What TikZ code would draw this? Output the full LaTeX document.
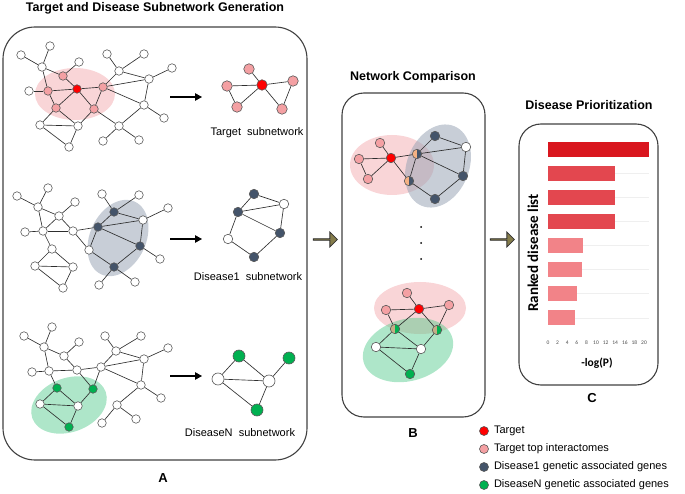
\documentclass[tikz,border=0pt]{standalone}
\usepackage{fontspec}
\setmainfont{Liberation Sans}
\newfontfamily\calfont{Carlito}
\usepackage{tikz}
\usetikzlibrary{positioning,shapes.geometric,shapes.arrows,arrows.meta}
\definecolor{tgtred}{HTML}{FF0000}
\definecolor{tgtpink}{HTML}{F4A0A3}
\definecolor{dsnavy}{HTML}{44546A}
\definecolor{dsgreen}{HTML}{00B050}
\definecolor{halforange}{HTML}{F4B183}
\definecolor{halftan}{HTML}{C4AE86}
\definecolor{nodeline}{HTML}{595959}
\definecolor{edgeline}{HTML}{2E2E2E}
\definecolor{panelline}{HTML}{404040}
\definecolor{pinkzone}{HTML}{F7C3C6}
\definecolor{grayzone}{HTML}{9AA5B6}
\definecolor{greenzone}{HTML}{4CC887}
\definecolor{arrowfill}{HTML}{857D4B}
\definecolor{bartop}{HTML}{D9161E}
\definecolor{barmid}{HTML}{E3474F}
\definecolor{barlow}{HTML}{F28388}
\definecolor{gridgray}{HTML}{EFEFEF}
\tikzset{
  % --- panels and titles ---
  panel/.style={draw=panelline, line width=1.1pt, inner sep=0pt},
  paneltitle/.style={font=\bfseries\fontsize{12.5}{14}\selectfont, inner sep=0pt},
  panelletter/.style={font=\bfseries\fontsize{13}{15}\selectfont, inner sep=0pt},
  sublabel/.style={font=\fontsize{11}{13}\selectfont, inner sep=0pt},
  % --- network nodes ---
  wnode/.style={circle, draw=nodeline, fill=white, line width=0.6pt,
                minimum size=8.5pt, inner sep=0pt},
  pnode/.style={wnode, fill=tgtpink},
  rnode/.style={wnode, fill=tgtred},
  dnode/.style={wnode, fill=dsnavy},
  gnode/.style={wnode, fill=dsgreen},
  halfnode/.style 2 args={wnode, minimum size=9.5pt, fill=#1,
                path picture={\fill[#2] (path picture bounding box.north)
                rectangle (path picture bounding box.south east);}},
  link/.style={draw=edgeline, line width=0.65pt},
  % --- highlighted regions ---
  zone/.style={ellipse, draw=none, inner sep=0pt},
  pinkz/.style={zone, fill=pinkzone, fill opacity=0.7},
  grayz/.style={zone, fill=grayzone, fill opacity=0.55},
  greenz/.style={zone, fill=greenzone, fill opacity=0.45},
  % --- arrows ---
  maparrow/.style={-{Triangle[length=7pt,width=7.5pt]}, line width=1.2pt},
  blockarrow/.style={single arrow, draw=black!80, fill=arrowfill, line width=0.8pt,
                     minimum height=24pt, minimum width=15pt,
                     single arrow head extend=3.5pt, inner sep=0pt},
  % --- bar chart ---
  bar/.style={anchor=west, minimum height=15pt, inner sep=0pt, draw=none},
  gridline/.style={draw=gridgray, line width=0.5pt},
  ticklabel/.style={font=\calfont\fontsize{5.5}{6}\selectfont, inner sep=0pt, text=black!70},
  axislabel/.style={font=\calfont\bfseries\fontsize{11.5}{13}\selectfont, inner sep=0pt},
  keytext/.style={font=\fontsize{11}{13}\selectfont, inner sep=0pt},
  dot/.style={circle, fill=black, minimum size=2pt, inner sep=0pt},
}
\begin{document}
\begin{tikzpicture}[x=1pt,y=-1pt]
  \useasboundingbox (0,0) rectangle (685,494);
  % panel frames
  \node[panel, rounded corners=32pt, minimum width=304pt, minimum height=433pt] (boxA) at (155,243.5) {};
  \node[panel, rounded corners=22pt, minimum width=143pt, minimum height=324pt] (boxB) at (413.5,255) {};
  \node[panel, rounded corners=22pt, minimum width=139pt, minimum height=261pt] (boxC) at (588.5,254.5) {};
  \node[paneltitle] (titleA) at (155,8) {Target and Disease Subnetwork Generation};
  \node[paneltitle] (titleB) at (413,77) {Network Comparison};
  \node[paneltitle] (titleC) at (589,105) {Disease Prioritization};
  \node[panelletter] (letA) at (163,478) {A};
  \node[panelletter] (letB) at (413,433) {B};
  \node[panelletter] (letC) at (592,398) {C};
  \node[blockarrow] (stepAB) at (325,239.5) {};
  \node[blockarrow] (stepBC) at (502,239.5) {};

  % --- A: target network ---
  \node[pinkz, minimum width=80pt, minimum height=52pt] (zoneA1) at (75,94) {};
  \foreach \n/\x/\y/\s in {a1/21/55/wnode, a2/50/46/wnode, a3/42/67/wnode, a4/79/62/wnode,
      a5/63/76/pnode, a6/29/91/wnode, a7/48/91/pnode, a8/77/89/rnode, a9/103/87/pnode,
      a10/56/108/pnode, a11/94/109/pnode, a12/40/125/wnode, a13/78/126/wnode,
      a14/69/147/wnode, a15/107/54/wnode, a16/144/54/wnode, a17/119/71/wnode,
      a18/172/68/wnode, a19/149/79/wnode, a20/144/105/wnode, a21/164/118/wnode,
      a22/119/126/wnode, a23/103/141/wnode, a24/139/140/wnode}
    \node[\s] (\n) at (\x,\y) {};
  \foreach \a/\b in {a1/a3, a2/a3, a3/a5, a3/a7, a4/a5, a5/a8, a6/a7, a7/a8, a8/a9,
      a7/a10, a8/a10, a8/a11, a9/a11, a10/a12, a10/a13, a12/a13, a12/a14, a13/a14,
      a11/a13, a11/a22, a9/a17, a9/a19, a9/a20, a15/a17, a16/a17, a17/a19, a18/a19,
      a19/a20, a20/a21, a20/a22, a22/a23, a22/a24}
    \draw[link] (\a) -- (\b);
  \foreach \n/\x/\y/\s in {t1/249/69/pnode, t2/227/86/pnode, t3/262/85/rnode,
      t4/293/81/pnode, t5/237/107/pnode, t6/282/109/pnode}
    \node[\s, minimum size=10.5pt] (\n) at (\x,\y) {};
  \foreach \a/\b in {t1/t3, t2/t3, t2/t5, t3/t5, t3/t4, t3/t6, t4/t6}
    \draw[link] (\a) -- (\b);
  \coordinate (mapT0) at (170,97);
  \coordinate (mapT1) at (202,97);
  \draw[maparrow] (mapT0) -- (mapT1);
  \node[sublabel] (labT) at (257,133) {Target\ \ subnetwork};

  % --- A: disease 1 network ---
  \node[grayz, minimum width=56pt, minimum height=80pt, rotate=-25] (zoneA2) at (118,238) {};
  \foreach \n/\x/\y/\s in {b1/17/196/wnode, b2/48/188/wnode, b3/38/207/wnode,
      b4/75/202/wnode, b5/59/216/wnode, b6/25/232/wnode, b7/43/231/wnode,
      b8/73/231/wnode, b9/52/249/wnode, b10/35/266/wnode, b11/73/267/wnode,
      b12/63/288/wnode, b13/89/250/wnode, b14/102/194/wnode, b15/139/195/wnode,
      b16/114/212/dnode, b17/143/220/wnode, b18/168/208/wnode, b19/98/227/dnode,
      b20/140/246/dnode, b21/160/259/wnode, b22/114/267/dnode, b23/99/285/wnode,
      b24/135/282/wnode}
    \node[\s] (\n) at (\x,\y) {};
  \foreach \a/\b in {b1/b3, b2/b3, b3/b5, b3/b7, b4/b5, b5/b7, b5/b8, b6/b7, b7/b8,
      b8/b19, b7/b9, b8/b13, b9/b10, b9/b11, b10/b11, b10/b12, b11/b12, b13/b22,
      b13/b19, b19/b16, b19/b17, b19/b20, b16/b14, b16/b15, b16/b17, b17/b18,
      b17/b20, b20/b21, b20/b22, b22/b23, b22/b24}
    \draw[link] (\a) -- (\b);
  \foreach \n/\x/\y/\s in {s1/254/194/dnode, s2/284/204/wnode, s3/238/212/dnode,
      s4/280/233/dnode, s5/228/239/wnode, s6/254/257/dnode}
    \node[\s, minimum size=9.5pt] (\n) at (\x,\y) {};
  \foreach \a/\b in {s1/s3, s1/s2, s3/s2, s3/s4, s3/s5, s2/s4, s4/s6, s5/s6}
    \draw[link] (\a) -- (\b);
  \coordinate (mapS0) at (170,239);
  \coordinate (mapS1) at (202,239);
  \draw[maparrow] (mapS0) -- (mapS1);
  \node[sublabel] (labS) at (248,277) {Disease1\ \ subnetwork};

  % --- A: disease N network ---
  \node[greenz, minimum width=78pt, minimum height=54pt, rotate=20] (zoneA3) at (69,405) {};
  \foreach \n/\x/\y/\s in {c1/24/336/wnode, c2/52/327/wnode, c3/44/347/wnode,
      c4/79/342/wnode, c5/64/356/wnode, c6/32/372/wnode, c7/49/371/wnode,
      c8/77/370/wnode, c9/57/388/gnode, c10/93/389/gnode, c11/40/404/wnode,
      c12/78/406/wnode, c13/69/427/gnode, c14/105/336/wnode, c15/141/336/wnode,
      c16/116/351/wnode, c17/168/348/wnode, c18/144/359/wnode, c19/101/367/wnode,
      c20/141/385/wnode, c21/161/398/wnode, c22/117/405/wnode, c23/102/423/wnode,
      c24/136/419/wnode}
    \node[\s] (\n) at (\x,\y) {};
  \foreach \a/\b in {c1/c3, c2/c3, c3/c5, c4/c5, c3/c7, c5/c8, c6/c7, c7/c8, c8/c19,
      c7/c9, c8/c10, c9/c11, c9/c12, c11/c12, c10/c12, c11/c13, c12/c13, c10/c19,
      c19/c16, c16/c14, c16/c15, c16/c18, c19/c18, c18/c17, c18/c20, c19/c20,
      c20/c21, c20/c22, c22/c23, c22/c24}
    \draw[link] (\a) -- (\b);
  \foreach \n/\x/\y/\s in {u1/239/356/gnode, u2/289/358/gnode, u3/218/379/wnode,
      u4/269/381/wnode, u5/257/410/gnode}
    \node[\s, minimum size=12pt] (\n) at (\x,\y) {};
  \foreach \a/\b in {u1/u3, u1/u4, u3/u4, u4/u2, u3/u5, u4/u5}
    \draw[link] (\a) -- (\b);
  \coordinate (mapU0) at (170,376);
  \coordinate (mapU1) at (202,376);
  \draw[maparrow] (mapU0) -- (mapU1);
  \node[sublabel] (labU) at (240,433) {DiseaseN\ \ subnetwork};

  % --- B: target vs disease 1 ---
  \node[pinkz, minimum width=84pt, minimum height=60pt] (zoneB1) at (392,165) {};
  \node[grayz, minimum width=62pt, minimum height=86pt, rotate=-22] (zoneB2) at (438,166) {};
  \foreach \n/\x/\y/\s in {bt1/380/143/pnode, bt2/359/159/pnode, bt3/391/158/rnode,
      bt5/368/179/pnode, bd1/435/136/dnode, bd2/466/147/wnode, bd4/463/176/dnode,
      bd6/435/199/dnode}
    \node[\s, minimum size=9.5pt] (\n) at (\x,\y) {};
  \node[halfnode={halforange}{dsnavy}] (bx4) at (417,154) {};
  \node[halfnode={halforange}{dsnavy}] (bx6) at (409,181) {};
  \foreach \a/\b in {bt1/bt3, bt2/bt3, bt2/bt5, bt3/bt5, bt3/bx4, bt3/bx6, bx4/bx6,
      bd1/bx4, bd1/bd2, bx4/bd2, bx4/bd4, bd2/bd4, bd4/bd6, bx6/bd6}
    \draw[link] (\a) -- (\b);
  \foreach \i in {0,1,2}
    \node[dot] (dot\i) at (421,{227+16*\i}) {};

  % --- B: target vs disease N ---
  \node[pinkz, minimum width=92pt, minimum height=52pt] (zoneB3) at (420,308) {};
  \node[greenz, minimum width=92pt, minimum height=62pt, rotate=15] (zoneB4) at (408,350) {};
  \foreach \n/\x/\y/\s in {bb1/407/293/pnode, bb2/386/310/pnode, bb3/419/309/rnode,
      bb4/449/305/pnode, bg3/376/347/wnode, bg4/421/349/wnode, bg5/410/374/gnode}
    \node[\s, minimum size=9.5pt] (\n) at (\x,\y) {};
  \node[halfnode={halftan}{dsgreen}] (by5) at (395,329) {};
  \node[halfnode={halftan}{dsgreen}] (by6) at (437,330) {};
  \foreach \a/\b in {bb1/bb3, bb2/bb3, bb2/by5, bb3/by5, bb3/bb4, bb3/by6, bb4/by6,
      by5/bg3, by5/bg4, bg3/bg4, bg4/by6, bg3/bg5, bg4/bg5}
    \draw[link] (\a) -- (\b);

  % --- C: ranked bars ---
  \foreach \i/\v/\c in {1/21/bartop, 2/14/barmid, 3/14/barmid, 4/14/barmid,
      5/7.2/barlow, 6/7.1/barlow, 7/6/barlow, 8/5.6/barlow} {
    \draw[gridline] (548,{125+24.1*\i}) -- (649,{125+24.1*\i});
    \node[bar, fill=\c, minimum width={4.8*\v}] (bar\i) at (548,{125+24.1*\i}) {};
  }
  \foreach \v in {0,2,...,20}
    \node[ticklabel] (tick\v) at ({548+4.8*\v},343) {\v};
  \node[axislabel] (xlab) at (597,363) {-log(P)};
  \node[axislabel, rotate=90, font=\calfont\bfseries\fontsize{15}{17}\selectfont] (ylab) at (533,253) {Ranked disease list};

  % legend
  \foreach \i/\s/\t in {0/rnode/Target, 1/pnode/Target top interactomes,
      2/dnode/Disease1 genetic associated genes, 3/gnode/DiseaseN genetic associated genes} {
    \node[\s, minimum size=9pt] (key\i) at (484,{431+18*\i}) {};
    \node[keytext, right=5pt of key\i] (keytext\i) {\t};
  }
\end{tikzpicture}
\end{document}
